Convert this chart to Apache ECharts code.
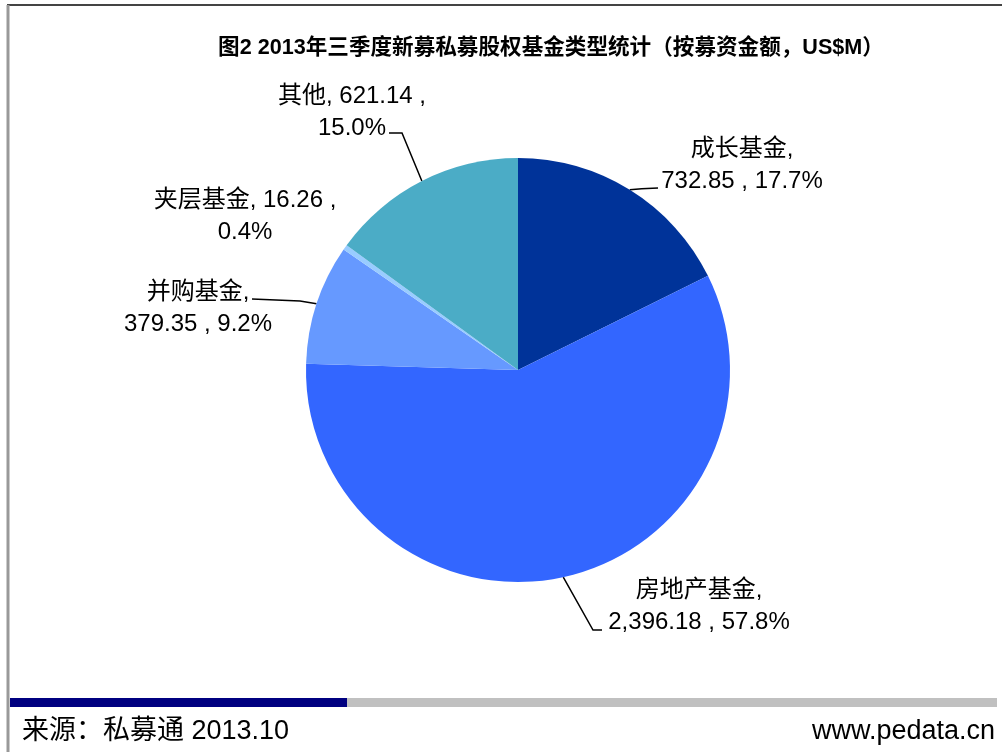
<!DOCTYPE html>
<html>
<head>
<meta charset="utf-8">
<title>图2 2013年三季度新募私募股权基金类型统计</title>
<script src="https://cdn.jsdelivr.net/npm/echarts@6/dist/echarts.min.js"></script>
<style>
  html, body { margin: 0; padding: 0; background: #fff; }
  #main { width: 1002px; height: 752px; }
</style>
</head>
<body>
<div id="main"></div>
<script>
// 数据
var categories = ['成长基金', '房地产基金', '并购基金', '夹层基金', '其他'];
var amounts = [732.85, 2396.18, 379.35, 16.26, 621.14];
var colors = ['#003399', '#3366FF', '#6699FF', '#99CCFF', '#4BACC6'];
// 标签换行位置：'name' 名称后换行，'value' 金额后换行
var breakAfter = ['name', 'name', 'name', 'value', 'value'];

var total = amounts.reduce(function (a, b) { return a + b; }, 0);

function fmtNum(v) {
  var s = v.toFixed(2).split('.');
  s[0] = s[0].replace(/\B(?=(\d{3})+(?!\d))/g, ',');
  return s.join('.');
}

var seriesData = categories.map(function (name, i) {
  return { name: name, value: amounts[i], itemStyle: { color: colors[i] } };
});

// 标签摆放（中心点）
var labelSpots = [
  { x: 742, y: 165 },
  { x: 699, y: 606 },
  { x: 198, y: 308 },
  { x: 245, y: 216 },
  { x: 352, y: 112 }
];

var chart = echarts.init(document.getElementById('main'));

var option = {
  animation: false,
  backgroundColor: '#fff',
  graphic: [
    { type: 'line', shape: { x1: 7, y1: 5, x2: 1002, y2: 5 }, style: { stroke: '#444', lineWidth: 2 } },
    { type: 'line', shape: { x1: 8, y1: 5, x2: 8, y2: 752 }, style: { stroke: '#999', lineWidth: 3 } },
    { type: 'rect', shape: { x: 10, y: 698, width: 337, height: 9 }, style: { fill: '#000080' } },
    { type: 'rect', shape: { x: 347, y: 698, width: 650, height: 9 }, style: { fill: '#C0C0C0' } },
    {
      type: 'text', left: 22, top: 718,
      style: { text: '来源：私募通 2013.10', fill: '#000', font: '27px "Liberation Sans", "Noto Sans CJK SC", sans-serif' }
    },
    {
      type: 'text', right: 7, top: 718,
      style: { text: 'www.pedata.cn', fill: '#000', font: '27px "Liberation Sans", "Noto Sans CJK SC", sans-serif' }
    },
    {
      type: 'text', x: 551, y: 48,
      style: {
        text: '图2 2013年三季度新募私募股权基金类型统计（按募资金额，US$M）',
        fill: '#000', align: 'center', verticalAlign: 'middle',
        font: 'bold 21.6px "Liberation Sans", "Noto Sans CJK SC", sans-serif'
      }
    }
  ],
  series: [{
    type: 'pie',
    center: [518, 370],
    radius: 212,
    startAngle: 90,
    clockwise: true,
    data: seriesData,
    itemStyle: { borderWidth: 0 },
    label: {
      show: true,
      position: 'outside',
      color: '#000',
      fontSize: 24,
      lineHeight: 32,
      fontFamily: '"Liberation Sans", "Noto Sans CJK SC", sans-serif',
      align: 'center',
      formatter: function (p) {
        var i = p.dataIndex;
        var pct = (amounts[i] / total * 100).toFixed(1) + '%';
        if (breakAfter[i] === 'name') {
          return p.name + ',\n' + fmtNum(amounts[i]) + ' , ' + pct;
        }
        return p.name + ', ' + fmtNum(amounts[i]) + ' ,\n' + pct;
      }
    },
    labelLine: {
      show: true,
      lineStyle: { color: '#000', width: 1.5 }
    },
    labelLayout: function (params) {
      var i = params.dataIndex;
      var s = labelSpots[i];
      var a = params.labelLinePoints ? params.labelLinePoints[0] : [0, 0];
      var pts;
      if (i === 0) pts = [a, [a[0] + 12, a[1] - 1], [658, 188]];
      else if (i === 1) pts = [a, [593, 630], [602, 630]];
      else if (i === 2) pts = [a, [300, 301], [252, 299]];
      else if (i === 4) pts = [a, [402, 133], [389, 133]];
      else pts = [a, a, a];
      return {
        x: s.x, y: s.y,
        align: 'center', verticalAlign: 'middle',
        labelLinePoints: pts
      };
    }
  }]
};

chart.setOption(option);
</script>
</body>
</html>
